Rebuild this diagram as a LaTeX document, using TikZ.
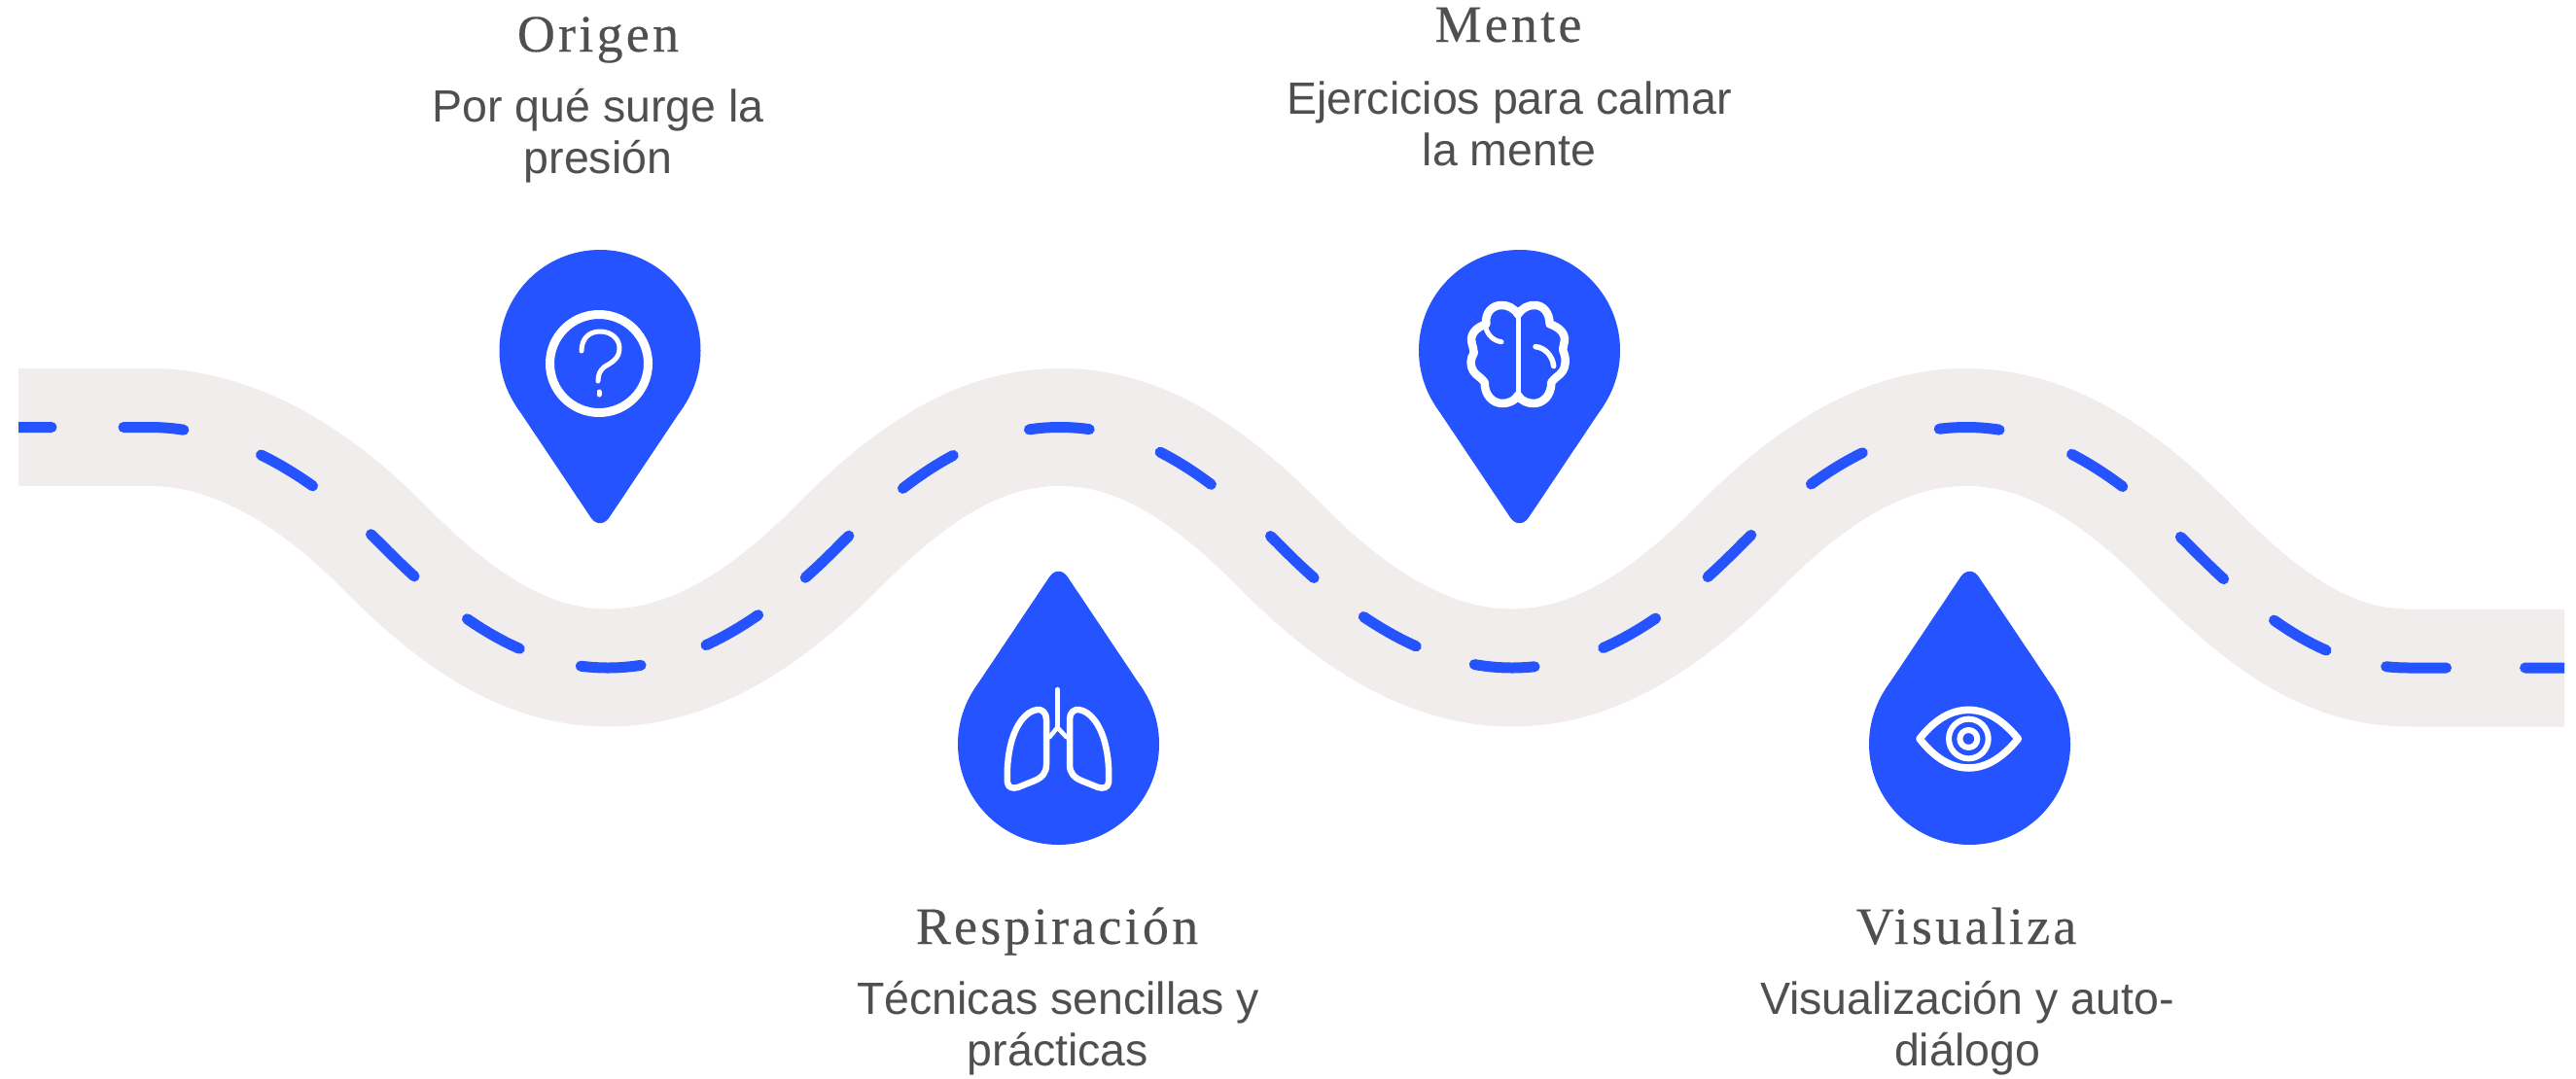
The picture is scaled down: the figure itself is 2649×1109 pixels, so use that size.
\documentclass[tikz,border=0pt]{standalone}
\usepackage{fontspec}
\setmainfont{Liberation Sans}
\newfontfamily\headfont[LetterSpace=6,FakeBold=0.3]{Liberation Serif}
\definecolor{pinblue}{HTML}{2453FF}
\definecolor{roadgrey}{HTML}{F1EDED}
\definecolor{txt}{HTML}{4F4F4F}
\tikzset{
  headtext/.style={text=txt,inner sep=0pt,anchor=base,font=\headfont\fontsize{54}{60}\selectfont},
  bodytext/.style={text=txt,inner sep=0pt,anchor=base,font=\fontsize{46.5}{53}\selectfont},
  iconline/.style={draw=white,line cap=round,line join=round,fill=none},
  roaddash/.style={dash pattern=on 62pt off 74pt on 62pt off 84pt on 62pt off 78pt on 62pt off 70pt on 62pt off 65.7pt on 62pt off 70.3pt on 62pt off 62pt on 62pt off 74pt on 62pt off 83pt on 62pt off 77pt on 62pt off 81pt on 62pt off 65pt on 62pt off 63pt on 62pt off 73.5pt on 62pt off 68.5pt on 62pt off 81pt on 62pt off 83pt on 62pt off 79pt on 62pt off 79pt on 62pt off 67pt on 62pt off 64pt on 62pt off 81pt,dash phase=28pt},
}
\newcommand{\pinshape}{%
  \fill[pinblue] (0,0) circle [radius=103.5pt];
  \fill[pinblue] (-87,56) [rounded corners=17pt] -- (0,186) [sharp corners] -- (87,56) -- cycle;
}
\newcommand{\roadline}{(19,439.5) -- (154,439.5)
  .. controls (234,439.5) and (316,483) .. (395,563)
  .. controls (474,643) and (545,687) .. (625,687)
  .. controls (705,687) and (782,643) .. (861,563)
  .. controls (940,483) and (1010,439.5) .. (1090,439.5)
  .. controls (1170,439.5) and (1239,483) .. (1318,563)
  .. controls (1397,643) and (1475,687) .. (1555,687)
  .. controls (1635,687) and (1709,643) .. (1788,563)
  .. controls (1867,483) and (1942,439.5) .. (2022,439.5)
  .. controls (2102,439.5) and (2174,483) .. (2253,563)
  .. controls (2332,643) and (2397,687) .. (2477,687)
  -- (2637,687)}
\begin{document}
\begin{tikzpicture}[x=1pt,y=-1pt]
\useasboundingbox (0,0) rectangle (2649,1109);
% road
\draw[roadgrey,line width=121pt] \roadline;
\begin{scope}
\clip (19,300) rectangle (2637,800);
\draw[pinblue,line width=11pt,line cap=round,roaddash] \roadline;
\end{scope}
% pins
\begin{scope}[shift={(617,360.5)}]\pinshape\end{scope}
\begin{scope}[shift={(1562.5,360.5)}]\pinshape\end{scope}
\begin{scope}[shift={(1088.5,765.5)},yscale=-1]\pinshape\end{scope}
\begin{scope}[shift={(2025.5,765.5)},yscale=-1]\pinshape\end{scope}
% question icon
\draw[iconline,line width=9pt] (616,374) circle [radius=50.5pt];
\draw[iconline,line width=5pt] (598,361) .. controls (598,348) and (606,341) .. (617,341)
  .. controls (629,341) and (637,349) .. (637,358) .. controls (637,369) and (629,373) .. (622,377)
  .. controls (617,381) and (615,385) .. (615,392);
\draw[iconline,line width=5pt] (616,403) -- (616,406);
% brain icon
\begin{scope}[shift={(1430,240)},scale=1/3]
\draw[iconline,line width=8.5pt]
  (393,250) .. controls (380,230) and (360,222) .. (345,222)
  .. controls (315,220) and (290,245) .. (295,280) .. controls (265,290) and (245,310) .. (250,335)
  .. controls (252,350) and (258,358) .. (257,370) .. controls (245,385) and (245,410) .. (255,425)
  .. controls (265,440) and (280,445) .. (290,460) .. controls (290,500) and (315,525) .. (345,525)
  .. controls (362,525) and (383,518) .. (393,500);
\draw[iconline,line width=8.5pt]
  (393,250) .. controls (406,230) and (426,222) .. (441,222)
  .. controls (471,220) and (490,245) .. (491,280) .. controls (521,290) and (541,310) .. (536,335)
  .. controls (534,350) and (528,358) .. (535,370) .. controls (541,385) and (541,410) .. (531,425)
  .. controls (521,440) and (506,445) .. (496,460) .. controls (496,500) and (471,525) .. (441,525)
  .. controls (424,525) and (403,518) .. (393,500);
\draw[iconline,line width=5pt] (393,250) -- (393,500);
\draw[iconline,line width=5pt] (292,285) .. controls (298,315) and (318,332) .. (342,335);
\draw[iconline,line width=5.5pt] (447,350) .. controls (475,352) and (500,378) .. (503,410);
\end{scope}
% lungs icon
\begin{scope}[shift={(960,570)},scale=1/3]
\draw[iconline,line width=5pt] (382,418) -- (382,530);
\draw[iconline,line width=4.5pt] (358,565) -- (382,535) -- (410,565);
\draw[iconline,line width=6.5pt] (348,510) .. controls (348,490) and (335,478) .. (320,480)
  .. controls (285,485) and (255,525) .. (240,580) .. controls (228,625) and (226,670) .. (228,705)
  .. controls (230,722) and (245,724) .. (260,720) -- (310,700)
  .. controls (335,690) and (348,675) .. (348,650) -- cycle;
\draw[iconline,line width=6.5pt] (420,510) .. controls (420,490) and (433,478) .. (448,480)
  .. controls (483,485) and (513,525) .. (528,580) .. controls (540,625) and (542,670) .. (540,705)
  .. controls (538,722) and (523,724) .. (508,720) -- (458,700)
  .. controls (433,690) and (420,675) .. (420,650) -- cycle;
\end{scope}
% eye icon
\begin{scope}[shift={(1900,570)},scale=1/3]
\draw[iconline,line width=7.5pt] (222,570) .. controls (265,515) and (315,481) .. (373,481)
  .. controls (431,481) and (481,515) .. (526,570)
  .. controls (481,625) and (431,660) .. (373,660)
  .. controls (315,660) and (265,625) .. (222,570) -- cycle;
\draw[iconline,line width=6pt] (373,570) circle [radius=61pt];
\draw[iconline,line width=6pt] (373,570) circle [radius=27pt];
\end{scope}
% labels
\node[headtext] (h1) at (615,53) {Origen};
\node[bodytext] (b1a) at (615,125) {Por qué surge la};
\node[bodytext] (b1b) at (615,178) {presión};
\node[headtext] (h2) at (1551,43) {Mente};
\node[bodytext] (b2a) at (1552,117) {Ejercicios para calmar};
\node[bodytext] (b2b) at (1552,170) {la mente};
\node[headtext] (h3) at (1087,971) {Respiración};
\node[bodytext] (b3a) at (1088,1043) {Técnicas sencillas y};
\node[bodytext] (b3b) at (1088,1096) {prácticas};
\node[headtext] (h4) at (2022,971) {Visualiza};
\node[bodytext] (b4a) at (2023,1043) {Visualización y auto-};
\node[bodytext] (b4b) at (2023,1096) {diálogo};
\end{tikzpicture}
\end{document}
